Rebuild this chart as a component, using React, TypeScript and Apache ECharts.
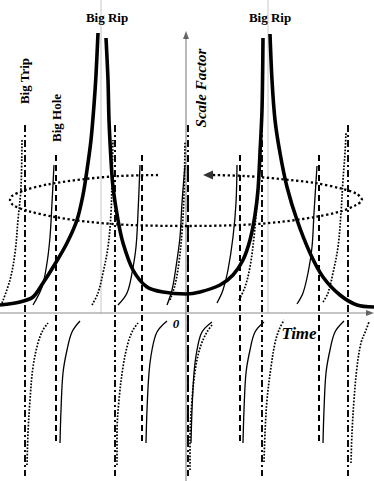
import React, { useEffect, useRef } from "react";
import * as echarts from "echarts";

type P = [number, number];

// Coordinates: t = time (0 at the vertical axis), a = scale factor (0 at the time axis)

// Big Rip (thick) curve, three pieces
const ripLeft: P[] = [
  [-186, 8], [-166, 11], [-153, 16], [-143, 30], [-131, 49], [-119, 70], [-109, 93],
  [-103, 118], [-99, 143], [-95, 173], [-92, 208], [-90, 238], [-88, 280],
];
const ripMiddle: P[] = [
  [-80, 275], [-78, 233], [-77, 193], [-75, 153], [-73, 126], [-68, 93], [-63, 70],
  [-53, 43], [-39, 26], [-23, 21], [0, 19], [14, 21], [34, 28], [47, 38], [57, 53],
  [64, 73], [69, 98], [72, 123], [74, 160], [76, 203], [77, 275],
];
const ripRight: P[] = [
  [84, 279], [86, 233], [89, 193], [94, 160], [101, 126], [111, 93], [124, 60],
  [137, 36], [154, 18], [171, 8], [188, 6],
];

// Big Trip (dotted) branches above the time axis
const tripUp1: P[] = [[-184, 10], [-176, 33], [-171, 60], [-168, 93], [-165, 126], [-164, 173]];
const tripUp2: P[] = [[-94, 8], [-88, 20], [-83, 40], [-78, 66], [-75, 100], [-74, 133], [-73, 173]];
const tripUp3: P[] = [[-16, 13], [-11, 28], [-7, 51], [-4, 81], [-2, 118], [-1, 171]];
const tripUp4: P[] = [[53, 13], [59, 26], [64, 46], [68, 76], [71, 110], [73, 143], [74, 173]];
const tripUp5: P[] = [[137, 11], [142, 20], [147, 40], [152, 66], [155, 100], [157, 133], [159, 160], [160, 180]];

// Big Trip (dotted) branches below the time axis
const tripDown1: P[] = [[-159, -152], [-158, -120], [-156, -87], [-153, -54], [-148, -30], [-143, -17], [-138, -10]];
const tripDown2: P[] = [[-69, -152], [-69, -120], [-67, -87], [-63, -54], [-58, -30], [-53, -17], [-48, -10]];
const tripDown3: P[] = [[4, -157], [4, -127], [6, -87], [10, -52], [15, -32], [21, -19], [26, -12]];
const tripDown4: P[] = [[78, -149], [79, -120], [81, -87], [85, -54], [89, -30], [93, -17], [98, -7]];
const tripDown5: P[] = [[165, -150], [166, -120], [168, -87], [171, -54], [175, -30], [180, -17], [183, -9]];

// Big Hole (thin solid) branches above the time axis
const holeUp1: P[] = [[-153, 8], [-144, 26], [-139, 50], [-136, 76], [-134, 110], [-132, 148]];
const holeUp2: P[] = [[-68, 8], [-59, 20], [-54, 40], [-50, 66], [-48, 100], [-46, 148]];
const holeUp3: P[] = [[-19, 8], [-14, 23], [-10, 46], [-6, 76], [-4, 110], [-1, 148]];
const holeUp4: P[] = [[31, 10], [37, 23], [42, 43], [47, 76], [50, 110], [51, 148]];
const holeUp5: P[] = [[111, 9], [117, 20], [122, 40], [126, 66], [128, 100], [131, 147]];

// Big Hole (thin solid) branches below the time axis
const holeDown1: P[] = [[-126, -130], [-125, -97], [-123, -60], [-119, -37], [-114, -19], [-106, -8]];
const holeDown2: P[] = [[-40, -130], [-39, -97], [-37, -60], [-34, -37], [-29, -19], [-19, -8]];
const holeDown3: P[] = [[5, -130], [6, -97], [8, -60], [11, -37], [16, -19], [26, -9]];
const holeDown4: P[] = [[57, -130], [58, -97], [60, -60], [64, -37], [69, -19], [78, -9]];
const holeDown5: P[] = [[137, -130], [138, -97], [140, -60], [144, -37], [149, -19], [158, -8]];

// Vertical asymptotes
const tripAsymptotes = [-161, -71, 2, 76, 162];
const tripSpan = [188, -163];
const holeAsymptotes = [-130, -44, 2, 54, 133];
const holeSpan = [158, -132];
const ripMarks = [-85, 82];
const ripMarkSpan = [313, 0];

// Cyclic (dotted) loop with arrow
const cycleLoop: P[] = [
  [-28, 138], [-66, 137], [-101, 134], [-136, 129], [-161, 123], [-174, 117], [-176, 113],
  [-173, 108], [-158, 102], [-131, 96], [-96, 91], [-56, 88], [0, 87], [54, 88], [94, 91],
  [129, 96], [156, 102], [170, 108], [176, 113], [171, 119], [157, 124], [129, 130],
  [94, 134], [59, 137], [26, 138],
];
const cycleArrow: P = [22, 138];

// Axes
const timeAxis: P[] = [[-186, 0], [182, 0]];
const timeArrow: P = [184, 0];
const scaleAxis: P[] = [[0, -168], [0, 276]];
const scaleArrow: P = [0, 278];

const BLACK = "#000";
const SERIF = '"Liberation Serif", "Times New Roman", serif';

function curve(data: P[], style: any, z = 2, smooth: number | boolean = 0.35) {
  return {
    type: "line",
    data,
    showSymbol: false,
    symbol: "none",
    smooth,
    silent: true,
    z,
    lineStyle: { color: BLACK, cap: "butt", ...style },
  };
}

const dotted = { width: 1.7, type: [1.7, 1.5] };
const thin = { width: 1.3, type: "solid" };
const dashed = { width: 2, type: [6, 4] };
const dashDot = { width: 1.9, type: [7, 3, 2, 3] };

function buildSeries() {
  const s: any[] = [];
  ripMarks.forEach((t) =>
    s.push(curve([[t, ripMarkSpan[0]], [t, ripMarkSpan[1]]], { color: "#c8c8c8", width: 1 }, 1, false))
  );
  s.push(curve(timeAxis, { color: "#8c8c8c", width: 1.2 }, 1, false));
  s.push(curve(scaleAxis, { color: "#8c8c8c", width: 1.2 }, 1, false));
  s.push({
    type: "scatter",
    data: [timeArrow],
    symbol: "triangle",
    symbolSize: [6, 8],
    symbolRotate: -90,
    itemStyle: { color: "#444" },
    silent: true,
    z: 3,
  });
  s.push({
    type: "scatter",
    data: [scaleArrow],
    symbol: "triangle",
    symbolSize: [6, 8],
    itemStyle: { color: "#444" },
    silent: true,
    z: 3,
  });
  tripAsymptotes.forEach((t) => s.push(curve([[t, tripSpan[0]], [t, tripSpan[1]]], dashDot, 2, false)));
  holeAsymptotes.forEach((t) => s.push(curve([[t, holeSpan[0]], [t, holeSpan[1]]], dashed, 2, false)));
  s.push(curve(cycleLoop, { width: 2.3, type: [2.3, 2.6] }, 2, 0.3));
  s.push({
    type: "scatter",
    data: [cycleArrow],
    symbol: "triangle",
    symbolSize: [9, 10],
    symbolRotate: 90,
    itemStyle: { color: BLACK },
    silent: true,
    z: 3,
  });
  [tripUp1, tripUp2, tripUp3, tripUp4, tripUp5, tripDown1, tripDown2, tripDown3, tripDown4, tripDown5].forEach((d) =>
    s.push(curve(d, dotted, 3))
  );
  [holeUp1, holeUp2, holeUp3, holeUp4, holeUp5, holeDown1, holeDown2, holeDown3, holeDown4, holeDown5].forEach((d) =>
    s.push(curve(d, thin, 3))
  );
  [ripLeft, ripMiddle, ripRight].forEach((d) => s.push(curve(d, { width: 3.6 }, 4, 0.3)));
  return s;
}

function label(text: string, x: number, y: number, font: string, rotation = 0) {
  return {
    type: "text",
    x,
    y,
    rotation,
    silent: true,
    z: 10,
    style: {
      text,
      font,
      fill: BLACK,
      align: "center",
      verticalAlign: "middle",
      textAlign: "center",
      textVerticalAlign: "middle",
    },
  };
}

export default function App() {
  const ref = useRef<HTMLDivElement>(null);
  useEffect(() => {
    const chart = echarts.init(ref.current!, null, { renderer: "svg" });
    chart.setOption({
      animation: false,
      backgroundColor: "#fff",
      grid: { left: 0, right: 0, top: 0, bottom: 0 },
      xAxis: { type: "value", min: -186, max: 188, show: false },
      yAxis: { type: "value", min: -168, max: 313, show: false },
      series: buildSeries(),
      graphic: [
        label("Big Rip", 107, 17, `bold 13px ${SERIF}`),
        label("Big Rip", 270, 17, `bold 13px ${SERIF}`),
        label("Big Trip", 24, 81, `bold 13px ${SERIF}`, Math.PI / 2),
        label("Big Hole", 56, 118, `bold 13px ${SERIF}`, Math.PI / 2),
        label("Scale Factor", 201, 88, `italic bold 15px ${SERIF}`, Math.PI / 2),
        label("Time", 299, 333, `italic bold 17px ${SERIF}`),
        label("0", 176, 323, `italic bold 13px ${SERIF}`),
      ],
    });
    return () => chart.dispose();
  }, []);
  return (
    <div
      ref={ref}
      style={{ position: "absolute", left: 0, top: 0, width: 374, height: 481, background: "#fff" }}
    />
  );
}
